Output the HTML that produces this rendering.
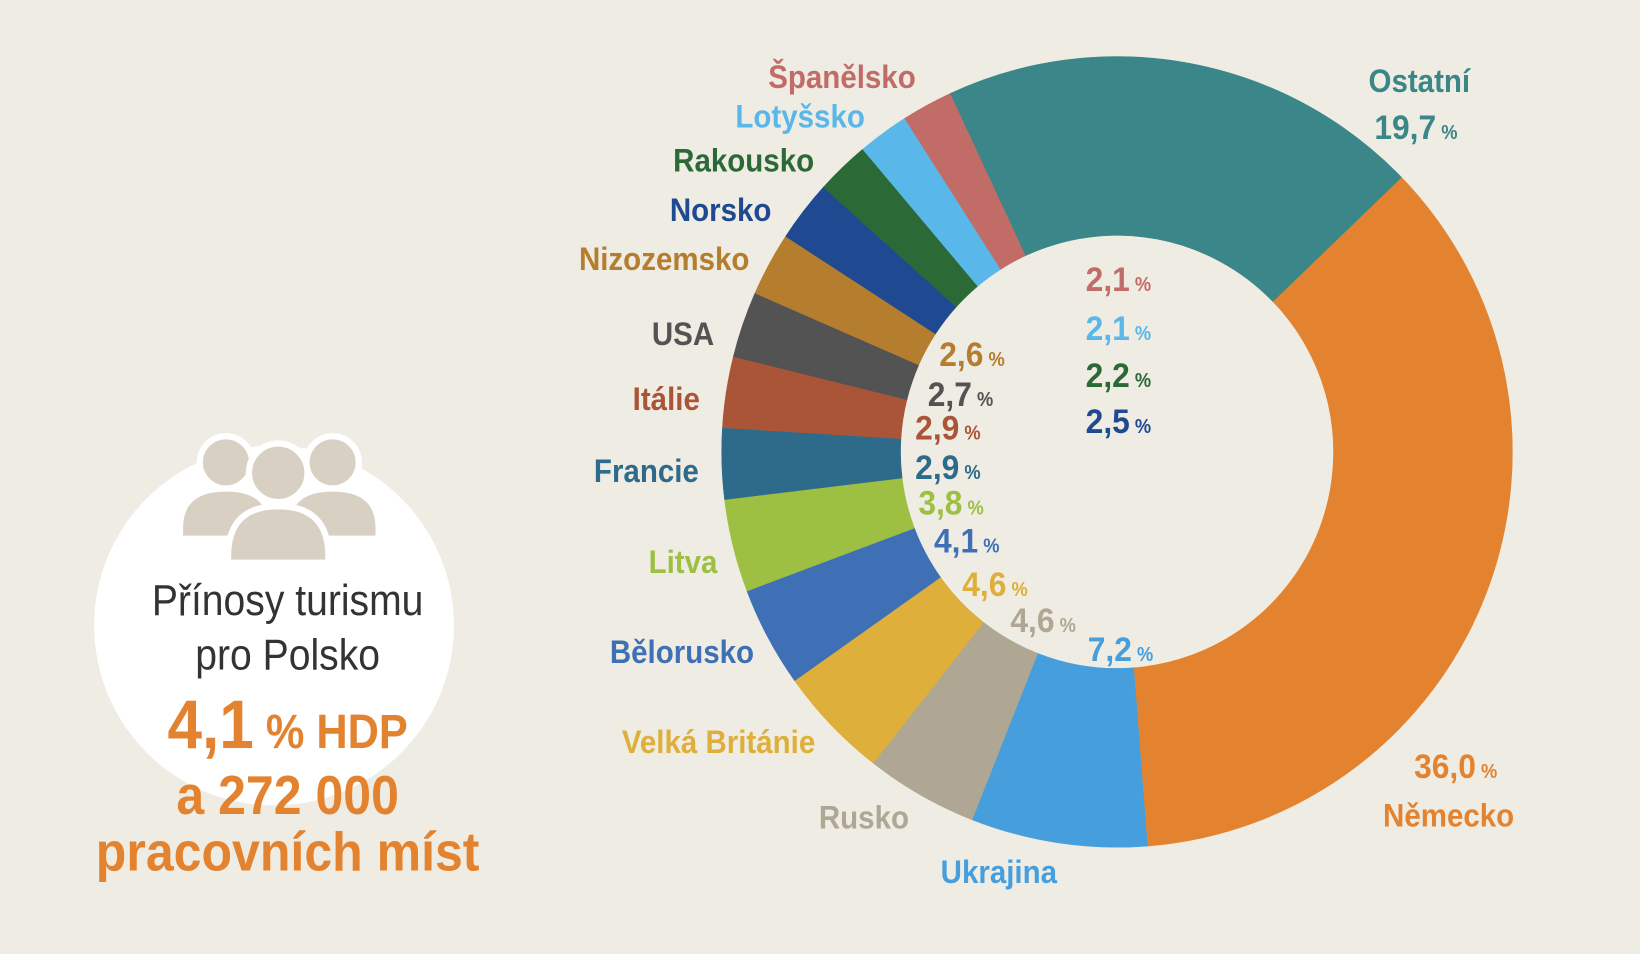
<!DOCTYPE html>
<html><head><meta charset="utf-8"><style>
html,body{margin:0;padding:0;background:#efece4;}
svg{display:block}
text{font-family:"Liberation Sans Narrow","Liberation Sans",sans-serif;font-weight:bold;}
</style></head><body>
<svg id="s" width="1640" height="954" viewBox="0 0 1568 912" xmlns="http://www.w3.org/2000/svg">
<rect width="1568" height="912" fill="#efece4"/>
<g id="donut"></g>
<circle cx="262" cy="598" r="172" fill="#fff"/>
<g fill="#d8d0c3" stroke="#fff" stroke-width="6">
<circle cx="216" cy="442" r="25"/><path d="M172 505 q0-38 44-38 q44 0 44 38 v10 h-88z"/>
<circle cx="318" cy="442" r="25"/><path d="M274 505 q0-38 44-38 q44 0 44 38 v10 h-88z"/>
<circle cx="266" cy="452" r="28"/><path d="M218 532 q0-48 48-48 q48 0 48 48 v6 h-96z"/>
</g>
<g text-anchor="middle">
<g transform="translate(275,588) scale(0.89,1)"><text font-size="42" style="font-weight:normal" fill="#333">Přínosy turismu</text></g>
<g transform="translate(275,640) scale(0.89,1)"><text font-size="42" style="font-weight:normal" fill="#333">pro Polsko</text></g>
<g transform="translate(275,715) scale(0.9,1)"><text fill="#e3832f"><tspan font-size="66">4,1</tspan><tspan font-size="46"> % HDP</tspan></text></g>
<g transform="translate(275,778) scale(0.92,1)"><text font-size="52" fill="#e3832f">a 272 000</text></g>
<g transform="translate(275,832) scale(0.92,1)"><text font-size="52" fill="#e3832f">pracovních míst</text></g>
</g>
<g id="labels" font-size="31"></g>
</svg>
<script>
var cx=1068,cy=432,R=378,r=207;
var d=[[36,"#e3832f"],[7.2,"#469fdc"],[4.6,"#afa793"],[4.6,"#deaf3a"],[4.1,"#3f70b5"],[3.8,"#9dbf42"],[2.9,"#2e6b8a"],[2.9,"#ab5538"],[2.7,"#535353"],[2.6,"#b47e2e"],[2.5,"#1f4a91"],[2.2,"#2b6a36"],[2.1,"#59b8e9"],[2.1,"#c26c68"],[19.7,"#3a8688"]];
var a=46,h="";
function p(ang,rad){var t=(ang-90)*Math.PI/180;return (cx+rad*Math.cos(t)).toFixed(2)+" "+(cy+rad*Math.sin(t)).toFixed(2);}
d.forEach(function(s){var b=a+s[0]*3.6,l=s[0]*3.6>180?1:0;
h+='<path fill="'+s[1]+'" stroke="'+s[1]+'" stroke-width="0.5" d="M'+p(a,R)+' A'+R+' '+R+' 0 '+l+' 1 '+p(b,R)+' L'+p(b,r)+' A'+r+' '+r+' 0 '+l+' 0 '+p(a,r)+'Z"/>';a=b;});
document.getElementById("donut").innerHTML=h;
var L=[
["Španělsko",805,84,"#c26c68"],["Lotyšsko",765,122,"#59b8e9"],["Rakousko",711,164,"#2b6a36"],["Norsko",689,211,"#1f4a91"],["Nizozemsko",635,258,"#b47e2e"],["USA",653,330,"#535353"],["Itálie",637,392,"#ab5538"],["Francie",618,461,"#2e6b8a"],["Litva",653,548,"#9dbf42"],["Bělorusko",652,634,"#3f70b5"],["Velká Británie",687,720,"#deaf3a"],["Rusko",826,792,"#afa793"],["Ukrajina",955,844,"#469fdc"],["Německo",1385,790,"#e3832f"],["Ostatní",1357,88,"#3a8688"]];
var P=[["36,0",1352,744,"#e3832f"],["19,7",1314,133,"#3a8688"],["2,1",1038,278,"#c26c68"],["2,1",1038,325,"#59b8e9"],["2,2",1038,370,"#2b6a36"],["2,5",1038,414,"#1f4a91"],["2,6",898,350,"#b47e2e"],["2,7",887,388,"#535353"],["2,9",875,420,"#ab5538"],["2,9",875,458,"#2e6b8a"],["3,8",878,492,"#9dbf42"],["4,1",893,528,"#3f70b5"],["4,6",920,570,"#deaf3a"],["4,6",966,604,"#afa793"],["7,2",1040,632,"#469fdc"]];
var g="";
L.forEach(function(x){g+='<g transform="translate('+x[1]+','+x[2]+') scale(0.91,1)"><text fill="'+x[3]+'" text-anchor="middle">'+x[0]+'</text></g>';});
P.forEach(function(x){g+='<g transform="translate('+x[1]+','+x[2]+') scale(0.92,1)"><text fill="'+x[3]+'"><tspan font-size="33">'+x[0]+'</tspan><tspan font-size="19"> %</tspan></text></g>';});
document.getElementById("labels").innerHTML=g;
</script>
</body></html>
